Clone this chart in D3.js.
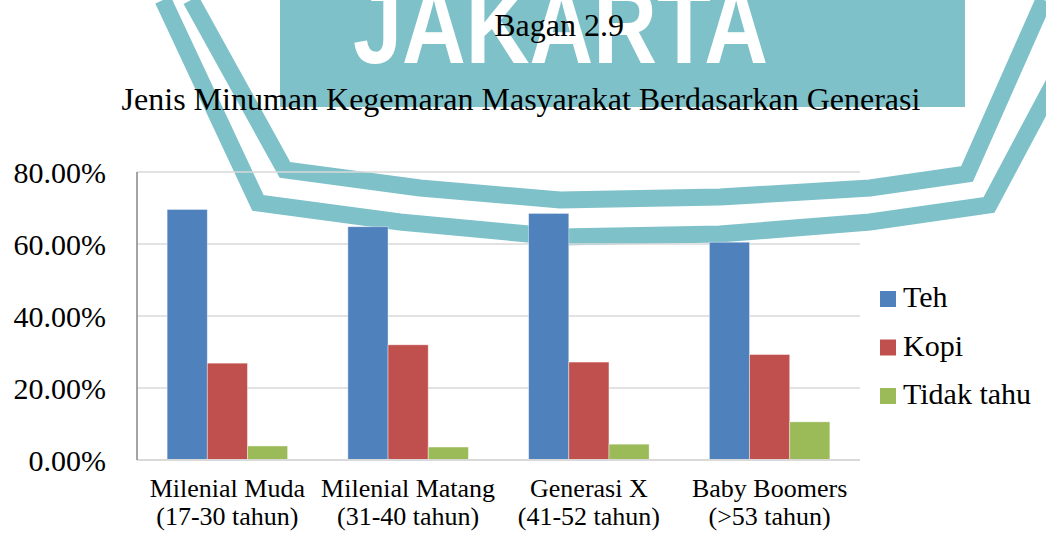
<!DOCTYPE html>
<html>
<head>
<meta charset="utf-8">
<script src="https://cdn.jsdelivr.net/npm/d3@7"></script>
<style>
    body { margin: 0; background: #fff; }
    text { font-family: "Liberation Serif", "Times New Roman", serif; fill: #000; }
</style>
</head>
<body>
<svg id="chart" width="1046" height="534"></svg>
<script>
// chart data
const categoryNames = ["Milenial Muda", "Milenial Matang", "Generasi X", "Baby Boomers"];
const categoryAges = ["(17-30 tahun)", "(31-40 tahun)", "(41-52 tahun)", "(>53 tahun)"];
const seriesNames = ["Teh", "Kopi", "Tidak tahu"];
const teh = [0.696, 0.648, 0.685, 0.605];
const kopi = [0.269, 0.320, 0.272, 0.293];
const tidakTahu = [0.039, 0.036, 0.044, 0.106];
const yTicks = [0, 0.2, 0.4, 0.6, 0.8];

const seriesValues = [teh, kopi, tidakTahu];
const colors = ["#4f81bd", "#c0504d", "#9bbb59"];

let svg = d3.select("#chart");

// ---- watermark behind everything ----
let wm = svg.append("g").attr("class", "watermark");
let teal = "#7ec1c9";

wm.append("rect")
    .attr("x", 280).attr("y", 0)
    .attr("width", 685).attr("height", 107)
    .attr("fill", teal);

// letters run off the top edge like in the scan
wm.append("text")
    .attr("x", 353).attr("y", 63)
    .attr("textLength", 415)
    .attr("lengthAdjust", "spacingAndGlyphs")
    .style("font-family", "'Liberation Sans', Arial, sans-serif")
    .style("font-weight", "bold")
    .style("font-size", "108px")
    .style("fill", "#fff")
    .text("JAKARTA");

let band = d3.line();
let innerBand = [[191, 0], [285, 170], [420, 188], [560, 200], [720, 197], [870, 188], [967, 174], [1044, 0]];
let outerBand = [[163, 0], [258, 203], [400, 222], [560, 237], [720, 234], [870, 222], [989, 205], [1098, 0]];
[innerBand, outerBand].forEach(pts => {
    wm.append("path")
        .attr("d", band(pts))
        .attr("fill", "none")
        .attr("stroke", teal)
        .attr("stroke-width", 17)
        .attr("stroke-linejoin", "miter");
});

// ---- titles ----
svg.append("text")
    .attr("x", 559).attr("y", 36)
    .attr("text-anchor", "middle")
    .style("font-size", "32px")
    .text("Bagan 2.9");

svg.append("text")
    .attr("x", 521).attr("y", 110)
    .attr("text-anchor", "middle")
    .style("font-size", "32px")
    .text("Jenis Minuman Kegemaran Masyarakat Berdasarkan Generasi");

// ---- scales ----
let plotLeft = 137, plotRight = 860, plotTop = 172, plotBottom = 460;

let xScale = d3.scaleBand()
    .domain(categoryNames)
    .range([plotLeft, plotRight])
    .paddingInner(1 / 3)
    .paddingOuter(1 / 6);

let sScale = d3.scaleBand()
    .domain(seriesNames)
    .range([0, xScale.bandwidth()]);

let yScale = d3.scaleLinear()
    .domain([0, 0.8])
    .range([plotBottom, plotTop]);

// gridlines
svg.append("g")
    .selectAll("line")
    .data(yTicks)
    .enter().append("line")
    .attr("x1", plotLeft).attr("x2", plotRight)
    .attr("y1", d => yScale(d)).attr("y2", d => yScale(d))
    .attr("stroke", "#d9d9d9")
    .attr("stroke-width", 1.5);

// y axis
let yAxis = d3.axisLeft(yScale)
    .tickValues(yTicks)
    .tickFormat(d3.format(".2%"))
    .tickSize(0)
    .tickPadding(31);

let yAxisG = svg.append("g")
    .attr("transform", "translate(" + plotLeft + ",0)")
    .call(yAxis);
yAxisG.select(".domain").remove();
yAxisG.selectAll("text")
    .attr("dy", "0.36em")
    .attr("fill", "#000")
    .style("font-size", "30px")
    .style("font-family", "'Liberation Serif', 'Times New Roman', serif");

// bars
let groups = svg.append("g")
    .selectAll("g")
    .data(categoryNames)
    .enter().append("g")
    .attr("transform", d => "translate(" + xScale(d) + ",0)");

groups.selectAll("rect")
    .data((d, i) => seriesNames.map((s, j) => ({ series: s, value: seriesValues[j][i], color: colors[j] })))
    .enter().append("rect")
    .attr("x", d => sScale(d.series))
    .attr("y", d => yScale(d.value))
    .attr("width", sScale.bandwidth())
    .attr("height", d => yScale(0) - yScale(d.value))
    .attr("fill", d => d.color)
    .attr("stroke", "#ffffff")
    .attr("stroke-opacity", 0.5)
    .attr("stroke-width", 0.8);

// axis lines
svg.append("line")
    .attr("x1", plotLeft).attr("x2", plotRight)
    .attr("y1", plotBottom).attr("y2", plotBottom)
    .attr("stroke", "#d9d9d9")
    .attr("stroke-width", 2);

svg.append("line")
    .attr("x1", plotLeft).attr("x2", plotLeft)
    .attr("y1", plotTop).attr("y2", plotBottom)
    .attr("stroke", "#868686")
    .attr("stroke-width", 1.5);

// category labels, two lines each
let xLabels = svg.append("g")
    .selectAll("text")
    .data(categoryNames)
    .enter().append("text")
    .attr("text-anchor", "middle")
    .attr("x", d => xScale(d) + xScale.bandwidth() / 2)
    .attr("y", 497)
    .style("font-size", "26px");

xLabels.append("tspan")
    .attr("x", d => xScale(d) + xScale.bandwidth() / 2)
    .text(d => d);
xLabels.append("tspan")
    .attr("x", d => xScale(d) + xScale.bandwidth() / 2)
    .attr("dy", 28)
    .text((d, i) => categoryAges[i]);

// legend
let legend = svg.append("g")
    .selectAll("g")
    .data(seriesNames)
    .enter().append("g")
    .attr("transform", (d, i) => "translate(880," + (307 + i * 48.5) + ")");

legend.append("rect")
    .attr("x", 0).attr("y", -16)
    .attr("width", 16).attr("height", 16)
    .attr("fill", (d, i) => colors[i]);

legend.append("text")
    .attr("x", 23).attr("y", 0)
    .style("font-size", "30px")
    .text(d => d);
</script>
</body>
</html>
